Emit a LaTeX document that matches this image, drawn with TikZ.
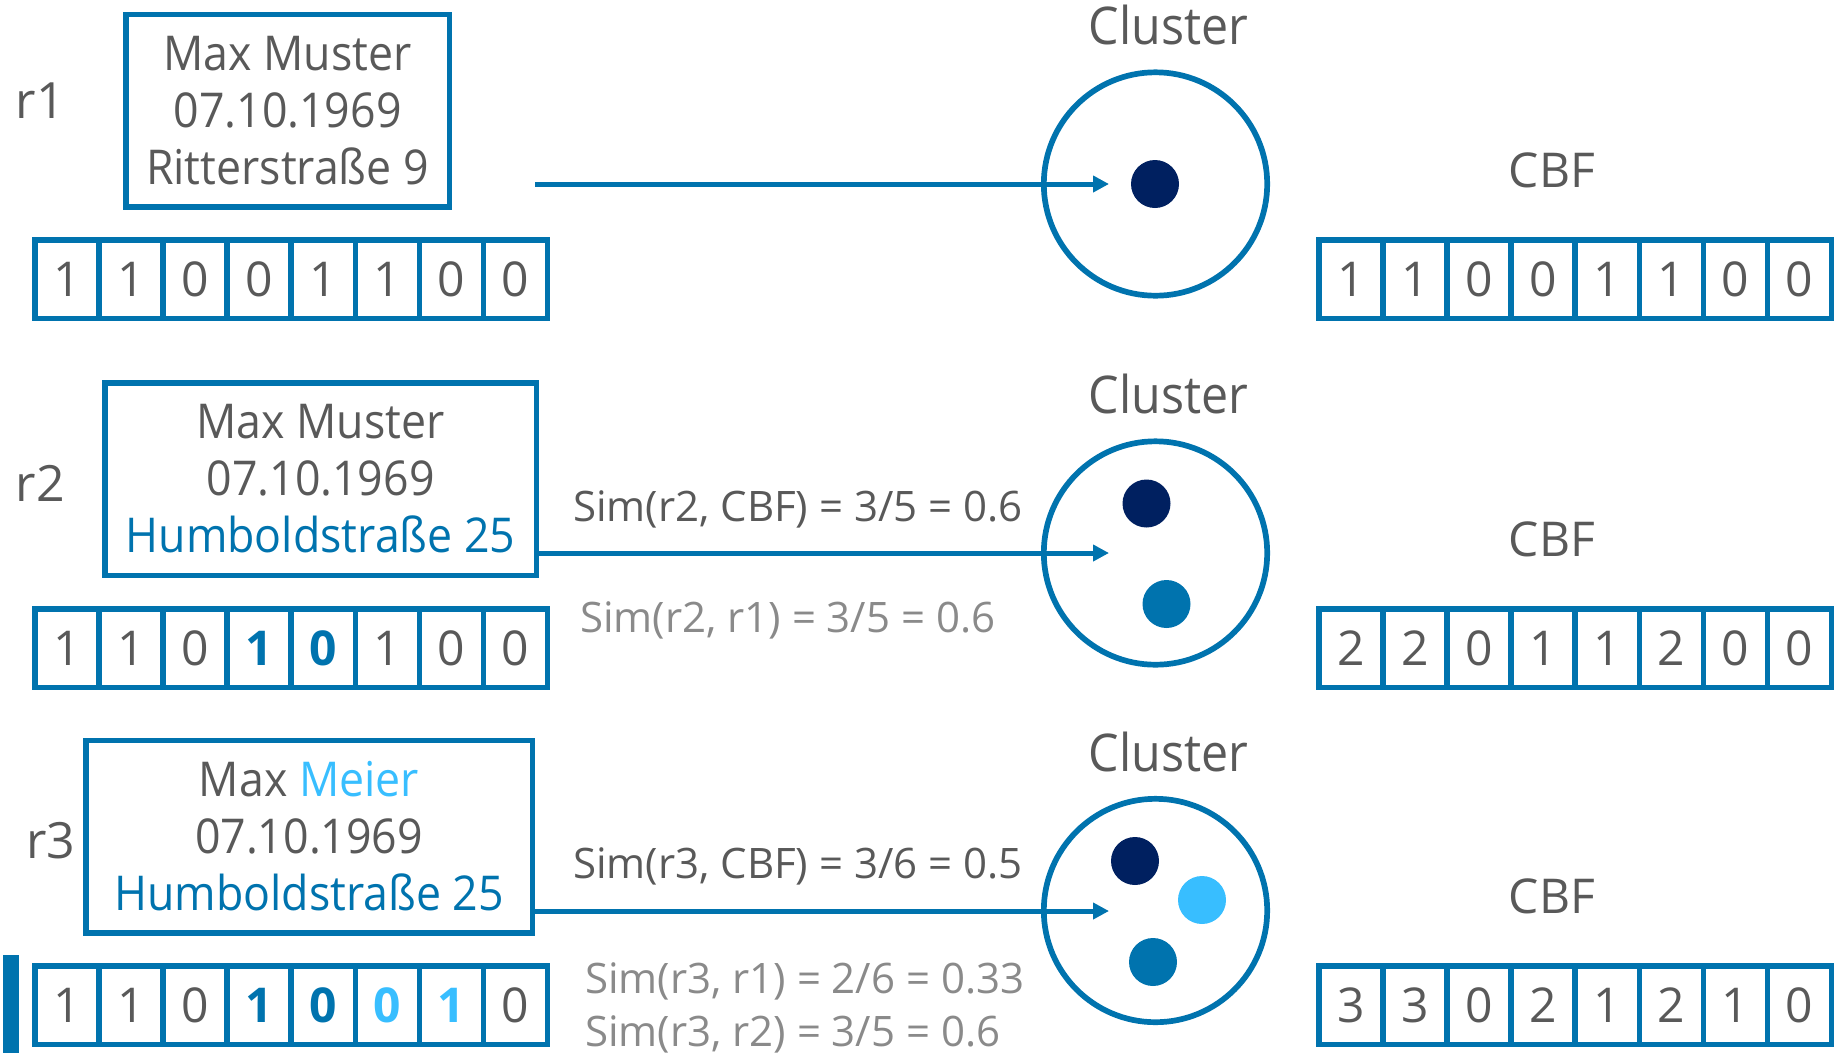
\documentclass[tikz,border=0pt]{standalone}
\usepackage{fontspec}
\setmainfont{Open Sans}
\newfontfamily\nfont[FakeStretch=0.93]{Open Sans}
\usetikzlibrary{arrows.meta,calc}
\definecolor{cblue}{HTML}{0073AE}
\definecolor{cnavy}{HTML}{002060}
\definecolor{clight}{HTML}{38BEFF}
\definecolor{ctext}{HTML}{595959}
\definecolor{cgray}{HTML}{8A8A8A}
\newcommand\hb[1]{{\bfseries\color{cblue}#1}}
\newcommand\hlb[1]{{\bfseries\color{clight}#1}}
\newcommand\bitrow[4]{%
  \foreach \d [count=\i] in {#4} {
    \node[bitcell] (#1-\i) at ({#2+(\i-0.5)*64.1}, #3) {\d};
  }%
}
\begin{document}
\begin{tikzpicture}[x=1pt,y=-1pt,
  every node/.style={text=ctext, inner sep=0pt, outer sep=0pt},
  recbox/.style={draw=cblue, line width=5.5pt, align=center,
    font=\nfont\fontsize{48}{57}\selectfont, minimum height=192.5pt},
  bitcell/.style={draw=cblue, line width=5.5pt, minimum width=64.1pt,
    minimum height=78.5pt, font=\fontsize{48}{57}\selectfont},
  rlbl/.style={font=\fontsize{50}{60}\selectfont, anchor=base west},
  cluslbl/.style={font=\nfont\fontsize{52}{62}\selectfont, anchor=base},
  cbflbl/.style={font=\fontsize{48}{57}\selectfont, anchor=base},
  simlbl/.style={font=\fontsize{42}{50}\selectfont, anchor=base west},
  simgray/.style={simlbl, text=cgray},
  clus/.style={draw=cblue, line width=5.7pt, circle, minimum size=223.4pt},
  rec/.style={circle, fill=#1, minimum size=48pt},
  flow/.style={draw=cblue, line width=5pt, -{Triangle[length=16pt,width=16pt]}}
]
\path[use as bounding box] (0,0) rectangle (1836,1053);

% ---------- Row 1 ----------
\node[rlbl] (r1) at (16,118) {r1};
\node[recbox, minimum width=323.5pt] (box1) at (287.5,110.5)
  {Max Muster\\07.10.1969\\Ritterstraße 9};
\bitrow{a1}{34.75}{279}{1,1,0,0,1,1,0,0}
\node[clus] (c1) at (1155.5,184) {};
\node[cluslbl] (cl1) at (1168.5,44) {Cluster};
\node[rec=cnavy] (d11) at (1155,184) {};
\coordinate (s1) at (535,184);
\coordinate (t1) at (1109,184);
\draw[flow] (s1) -- (t1);
\node[cbflbl] (cbf1) at (1552,187) {CBF};
\bitrow{b1}{1318.75}{279}{1,1,0,0,1,1,0,0}

% ---------- Row 2 ----------
\node[rlbl] (r2) at (16,501) {r2};
\node[recbox, minimum width=431.5pt] (box2) at (320.5,479)
  {Max Muster\\07.10.1969\\\textcolor{cblue}{Humboldstraße 25}};
\bitrow{a2}{34.75}{648}{1,1,0,\hb{1},\hb{0},1,0,0}
\node[clus] (c2) at (1155.5,553) {};
\node[cluslbl] (cl2) at (1168.5,413) {Cluster};
\node[rec=cnavy] (d21) at (1146.5,503.5) {};
\node[rec=cblue] (d22) at (1166.5,604) {};
\coordinate (t2) at (1109,553);
\draw[flow] (box2.east |- t2) -- (t2);
\node[simlbl] (sim2a) at (573,521) {Sim(r2, CBF) = 3/5 = 0.6};
\node[simgray] (sim2b) at (580,632) {Sim(r2, r1) = 3/5 = 0.6};
\node[cbflbl] (cbf2) at (1552,556) {CBF};
\bitrow{b2}{1318.75}{648}{2,2,0,1,1,2,0,0}

% ---------- Row 3 ----------
\node[rlbl] (r3) at (26,858) {r3};
\node[recbox, minimum width=446.5pt] (box3) at (309,836.5)
  {Max \textcolor{clight}{Meier}\\07.10.1969\\\textcolor{cblue}{Humboldstraße 25}};
\bitrow{a3}{34.75}{1005}{1,1,0,\hb{1},\hb{0},\hlb{0},\hlb{1},0}
\node[clus] (c3) at (1155.5,910.5) {};
\node[cluslbl] (cl3) at (1168.5,771) {Cluster};
\node[rec=cnavy] (d31) at (1135,861) {};
\node[rec=clight] (d32) at (1202,900) {};
\node[rec=cblue] (d33) at (1153,962) {};
\coordinate (t3) at (1109,911);
\draw[flow] (box3.east |- t3) -- (t3);
\node[simlbl] (sim3a) at (573,878) {Sim(r3, CBF) = 3/6 = 0.5};
\node[simgray] (sim3b) at (585,993) {Sim(r3, r1) = 2/6 = 0.33};
\node[simgray] (sim3c) at (585,1046) {Sim(r3, r2) = 3/5 = 0.6};
\node[cbflbl] (cbf3) at (1552,913) {CBF};
\bitrow{b3}{1318.75}{1005}{3,3,0,2,1,2,1,0}
\fill[cblue] (3,955) rectangle (19,1053);
\end{tikzpicture}
\end{document}
